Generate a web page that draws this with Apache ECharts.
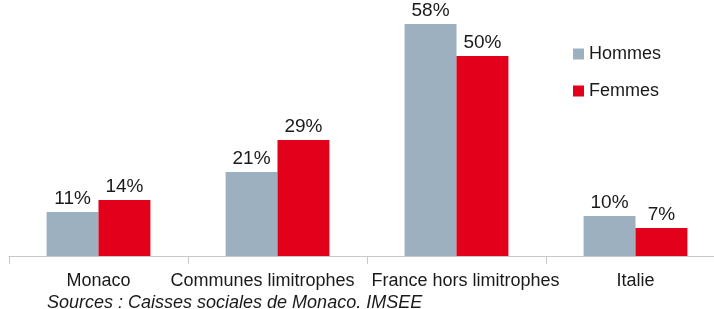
<!DOCTYPE html>
<html>
<head>
<meta charset="utf-8">
<script src="https://cdn.jsdelivr.net/npm/echarts@6/dist/echarts.min.js"></script>
<style>
  html, body { margin: 0; padding: 0; background: #fff; }
  #chart { width: 714px; height: 309px; }
</style>
</head>
<body>
<div id="chart"></div>
<script>
var categories = ['Monaco', 'Communes limitrophes', 'France hors limitrophes', 'Italie'];
var hommes = [11, 21, 58, 10];
var femmes = [14, 29, 50, 7];

var chart = echarts.init(document.getElementById('chart'));

// les deux libellés longs sont un peu décalés pour ne pas se toucher
var labelPadding = [[0, 0, 0, 0], [0, 30, 0, 0], [0, 0, 0, 18], [0, 0, 0, 0]];
var categoryData = categories.map(function (name, i) {
    return {value: name, textStyle: {padding: labelPadding[i]}};
});

var labelStyle = {
    show: true,
    position: 'top',
    distance: 4,
    formatter: '{c}%',
    fontFamily: 'Liberation Sans',
    fontSize: 19,
    color: '#1a1a1a'
};

var option = {
    animation: false,
    textStyle: {fontFamily: 'Liberation Sans'},
    title: {
        text: 'Sources : Caisses sociales de Monaco. IMSEE',
        left: 42,
        top: 289,
        textStyle: {
            fontSize: 18,
            fontStyle: 'italic',
            fontWeight: 'normal',
            color: '#1a1a1a'
        }
    },
    legend: {
        orient: 'vertical',
        left: 568,
        top: 40,
        itemWidth: 11,
        itemHeight: 11,
        itemGap: 19,
        icon: 'rect',
        textStyle: {fontSize: 18, color: '#1a1a1a', padding: [0, 0, 0, 0]},
        data: ['Hommes', 'Femmes']
    },
    grid: {
        left: 9,
        width: 716,
        top: 16,
        bottom: 53,
        outerBoundsMode: 'none'
    },
    xAxis: {
        type: 'category',
        data: categoryData,
        axisLine: {lineStyle: {color: '#c8c8c8', width: 1}},
        axisTick: {show: true, length: 8, lineStyle: {color: '#c8c8c8'}},
        axisLabel: {fontSize: 18, color: '#1a1a1a', margin: 16, interval: 0}
    },
    yAxis: {
        type: 'value',
        min: 0,
        max: 60,
        show: false
    },
    series: [
        {
            name: 'Hommes',
            type: 'bar',
            data: hommes,
            barGap: '0%',
            barCategoryGap: '42%',
            itemStyle: {color: '#9db0c0'},
            label: labelStyle
        },
        {
            name: 'Femmes',
            type: 'bar',
            data: femmes,
            itemStyle: {color: '#e2001a'},
            label: labelStyle
        }
    ]
};

chart.setOption(option);
</script>
</body>
</html>
